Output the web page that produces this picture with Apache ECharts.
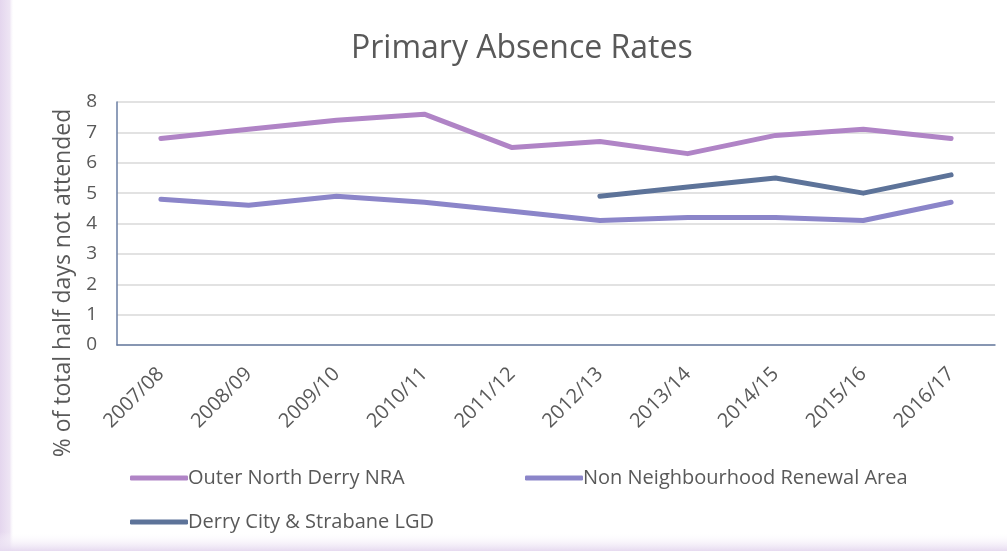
<!DOCTYPE html>
<html>
<head>
<meta charset="utf-8">
<script src="https://cdn.jsdelivr.net/npm/echarts@6/dist/echarts.min.js"></script>
<style>
  html, body { margin: 0; padding: 0; background: #fff; }
  #chart { width: 1007px; height: 551px; }
</style>
</head>
<body>
<div id="chart"></div>
<script>
// data
const years = ['2007/08', '2008/09', '2009/10', '2010/11', '2011/12', '2012/13', '2013/14', '2014/15', '2015/16', '2016/17'];
const outerNorth = [6.8, 7.1, 7.4, 7.6, 6.5, 6.7, 6.3, 6.9, 7.1, 6.8];
const nonNra = [4.8, 4.6, 4.9, 4.7, 4.4, 4.1, 4.2, 4.2, 4.1, 4.7];
const derryLgd = [null, null, null, null, null, 4.9, 5.2, 5.5, 5.0, 5.6];
const yTicks = [0, 1, 2, 3, 4, 5, 6, 7, 8];

const names = ['Outer North Derry NRA', 'Non Neighbourhood Renewal Area', 'Derry City & Strabane LGD'];
const colors = ['#b084c6', '#8b85c9', '#5d7399'];

const font = "'Open Sans', sans-serif";

const chart = echarts.init(document.getElementById('chart'));

//图例：每项单独定位
function legendAt(name, left, top) {
    return {
        data: [name],
        left: left,
        top: top,
        icon: 'roundRect',
        itemWidth: 58,
        itemHeight: 5,
        itemGap: 0,
        textStyle: {
            fontFamily: font,
            fontSize: 20,
            color: '#595959',
            padding: [0, 0, 0, -5]
        }
    };
}

function lineSeries(i, data) {
    return {
        name: names[i],
        type: 'line',
        data: data,
        symbol: 'none',
        connectNulls: false,
        lineStyle: { width: 5, color: colors[i], cap: 'round', join: 'round' },
        itemStyle: { color: colors[i] }
    };
}

const option = {
    animation: false,
    backgroundColor: '#fff',
    title: {
        text: 'Primary Absence Rates',
        left: 346,
        top: 28,
        textStyle: {
            fontFamily: font,
            fontSize: 32,
            fontWeight: 'normal',
            color: '#595959'
        }
    },
    graphic: [
        //左侧和底部的淡紫色边框
        {
            type: 'rect',
            shape: { x: 0, y: 0, width: 14, height: 551 },
            style: {
                fill: new echarts.graphic.LinearGradient(0, 0, 1, 0, [
                    { offset: 0, color: '#e4d6ee' },
                    { offset: 0.7, color: '#eee5f4' },
                    { offset: 1, color: 'rgba(255,255,255,0)' }
                ])
            },
            silent: true
        },
        {
            type: 'rect',
            shape: { x: 0, y: 532, width: 1007, height: 19 },
            style: {
                fill: new echarts.graphic.LinearGradient(0, 0, 0, 1, [
                    { offset: 0, color: 'rgba(255,255,255,0)' },
                    { offset: 1, color: '#e6daf0' }
                ])
            },
            silent: true
        },
        //y轴标题（位置比绘图区中心偏下）
        {
            type: 'text',
            x: 63,
            y: 283,
            rotation: Math.PI / 2,
            style: {
                text: '% of total half days not attended',
                fontFamily: font,
                fontSize: 23,
                fill: '#595959',
                align: 'center',
                verticalAlign: 'middle'
            },
            silent: true
        }
    ],
    legend: [
        legendAt(names[0], 125, 463),
        legendAt(names[1], 520, 463),
        legendAt(names[2], 125, 507)
    ],
    grid: {
        left: 117,
        right: 12,
        top: 102,
        bottom: 206
    },
    xAxis: {
        type: 'category',
        data: years,
        boundaryGap: true,
        axisLine: { lineStyle: { color: '#6a7ea3', width: 1.5 } },
        axisTick: { show: false },
        axisLabel: {
            rotate: 45,
            interval: 0,
            margin: 26,
            fontFamily: font,
            fontSize: 20,
            color: '#595959'
        }
    },
    yAxis: {
        type: 'value',
        min: yTicks[0],
        max: yTicks[yTicks.length - 1],
        interval: 1,
        axisLine: { show: true, lineStyle: { color: '#6a7ea3', width: 1.5 } },
        axisTick: { show: false },
        splitLine: { lineStyle: { color: '#d9d9d9', width: 1.5 } },
        axisLabel: {
            margin: 20,
            fontFamily: font,
            fontSize: 19,
            color: '#595959'
        }
    },
    series: [
        lineSeries(0, outerNorth),
        lineSeries(1, nonNra),
        lineSeries(2, derryLgd)
    ]
};

chart.setOption(option);
</script>
</body>
</html>
